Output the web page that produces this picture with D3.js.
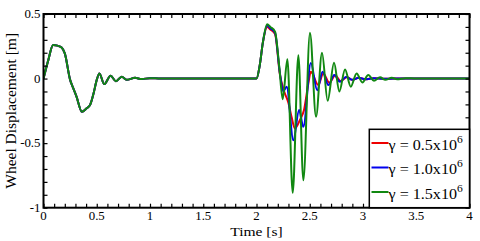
<!DOCTYPE html>
<html><head><meta charset="utf-8">
<script src="https://cdn.jsdelivr.net/npm/d3@7"></script>
<style>
html,body{margin:0;padding:0;background:#fff;}
svg{display:block;font-family:"Liberation Serif","Times New Roman",serif;}
</style></head>
<body><svg id="c" width="480" height="241"></svg>
<script>
// ---- data ----
const xMajorTicks = [0, 0.5, 1, 1.5, 2, 2.5, 3, 3.5, 4];
const xTickLabels = ["0", "0.5", "1", "1.5", "2", "2.5", "3", "3.5", "4"];
const yMajorTicks = [-1, -0.5, 0, 0.5];
const yTickLabels = ["-1", "-0.5", "0", "0.5"];
const seriesNames = ["0.5", "1.0", "1.5"];
const seriesColors = ["#ee0000", "#0000ee", "#118811"];

const sharedTime  = [0, 0.045, 0.09, 0.13, 0.17, 0.2, 0.25, 0.28, 0.31, 0.36, 0.405, 0.437, 0.47, 0.5, 0.525, 0.57, 0.63, 0.68, 0.735, 0.78, 0.86, 0.92, 1.0, 1.1, 2.0, 2.03, 2.06];
const sharedValue = [0, 0.143, 0.26, 0.255, 0.24, 0.195, -0.01, -0.076, -0.14, -0.257, -0.23, -0.205, -0.115, -0.01, 0.04, -0.043, 0.022, -0.02, 0.014, -0.01, 0.006, -0.004, 0.003, 0, 0, 0.1, 0.28];

const redTime  = [2.1, 2.13, 2.174, 2.22, 2.26, 2.30, 2.33, 2.36, 2.408, 2.446, 2.487, 2.51, 2.58, 2.627, 2.684, 2.74, 2.79, 2.85, 2.9, 2.96, 3.02, 3.1, 3.2, 3.3, 4];
const redValue = [0.40, 0.38, 0.345, 0.03, -0.1, -0.19, -0.3, -0.386, -0.32, -0.244, -0.037, 0.053, -0.05, 0.04, -0.033, 0.025, -0.02, 0.012, -0.01, 0.006, -0.005, 0.003, -0.002, 0, 0];

const blueTime  = [2.1, 2.13, 2.174, 2.22, 2.252, 2.283, 2.346, 2.40, 2.44, 2.51, 2.57, 2.62, 2.675, 2.73, 2.784, 2.84, 2.9, 2.96, 3.02, 3.1, 3.2, 3.3, 4];
const blueValue = [0.41, 0.39, 0.355, 0.04, -0.1, -0.064, -0.477, -0.244, -0.374, 0.12, -0.09, 0.053, -0.05, 0.027, -0.025, 0.012, -0.01, 0.006, -0.005, 0.003, -0.002, 0, 0];

const greenTime  = [2.1, 2.13, 2.174, 2.214, 2.246, 2.29, 2.34, 2.393, 2.44, 2.502, 2.559, 2.615, 2.668, 2.728, 2.778, 2.831, 2.885, 2.94, 2.994, 3.05, 3.103, 3.16, 3.21, 3.27, 3.32, 3.4, 3.5, 4];
const greenValue = [0.42, 0.4, 0.363, 0.09, -0.16, 0.15, -0.885, 0.18, -0.787, 0.355, -0.296, 0.2, -0.172, 0.122, -0.1, 0.071, -0.063, 0.04, -0.03, 0.027, -0.017, 0.01, -0.01, 0.006, -0.005, 0.003, 0, 0];

// ---- layout ----
const L = 43.5, R = 469.5, T = 14, B = 207.7;
const svg = d3.select("#c");
const x = d3.scaleLinear().domain([0, 4]).range([L, R]);
const y = d3.scaleLinear().domain([-1, 0.5]).range([B, T]);

const minorX = d3.range(0, 41).map(i => i / 10);
const minorY = d3.range(-10, 6).map(i => i / 10);

svg.append("defs").append("clipPath").attr("id", "clip")
  .append("rect").attr("x", L).attr("y", T).attr("width", R - L).attr("height", B - T);

function build(times, vals) {
  const t = sharedTime.concat(times), v = sharedValue.concat(vals);
  return t.map((d, i) => [d, v[i]]);
}
const series = [build(redTime, redValue), build(blueTime, blueValue), build(greenTime, greenValue)];

const line = d3.line().x(d => x(d[0])).y(d => y(d[1])).curve(d3.curveMonotoneX);
const gLines = svg.append("g").attr("clip-path", "url(#clip)");
series.forEach((s, i) => {
  gLines.append("path").datum(s).attr("d", line)
    .attr("fill", "none").attr("stroke", seriesColors[i]).attr("stroke-width", 2)
    .attr("stroke-linejoin", "round");
});

// ticks (inward) on all four sides via d3 axes
function styleAxis(g) {
  g.select(".domain").remove();
  g.selectAll("line").attr("stroke", "#000").attr("stroke-width", 1.2);
}
svg.append("g").attr("transform", `translate(0,${B})`)
  .call(d3.axisBottom(x).tickValues(minorX).tickSize(-4).tickFormat("")).call(styleAxis);
svg.append("g").attr("transform", `translate(0,${T})`)
  .call(d3.axisTop(x).tickValues(minorX).tickSize(-4).tickFormat("")).call(styleAxis);
svg.append("g").attr("transform", `translate(${L},0)`)
  .call(d3.axisLeft(y).tickValues(minorY).tickSize(-4).tickFormat("")).call(styleAxis);
svg.append("g").attr("transform", `translate(${R},0)`)
  .call(d3.axisRight(y).tickValues(minorY).tickSize(-4).tickFormat("")).call(styleAxis);

// frame
svg.append("rect").attr("x", L).attr("y", T).attr("width", R - L).attr("height", B - T)
  .attr("fill", "none").attr("stroke", "#000").attr("stroke-width", 2);

// stretched text helper
function stext(px, py, str, size, anchor, sx) {
  const g = svg.append("g").attr("transform", `translate(${px},${py})`);
  return g.append("text").attr("transform", `scale(${sx},1)`)
    .attr("text-anchor", anchor).attr("font-size", size).attr("fill", "#000").text(str);
}

xMajorTicks.forEach((t, i) => stext(x(t), 220, xTickLabels[i], 11.5, "middle", 1.12));
yMajorTicks.forEach((v, i) => stext(40.5, y(v) + 4, yTickLabels[i], 11.5, "end", 1.12));

stext((L + R) / 2, 236, "Time [s]", 13.5, "middle", 1.15);
svg.append("text").attr("transform", `translate(16,${(T + B) / 2}) rotate(-90)`)
  .attr("text-anchor", "middle").attr("font-size", 15.5).attr("fill", "#000")
  .text("Wheel Displacement [m]");

// legend
const lg = svg.append("g");
lg.append("rect").attr("x", 369.3).attr("y", 129.3).attr("width", R - 369.3).attr("height", B - 129.3)
  .attr("fill", "#fff").attr("stroke", "#000").attr("stroke-width", 1.5);
seriesNames.forEach((n, i) => {
  const ly = 143 + i * 24.5;
  lg.append("line").attr("x1", 371.5).attr("x2", 388.5).attr("y1", ly).attr("y2", ly)
    .attr("stroke", seriesColors[i]).attr("stroke-width", 2);
  const g = lg.append("g").attr("transform", `translate(388.5,${ly + 6.5})`);
  const t = g.append("text").attr("transform", "scale(1.15,1)").attr("font-size", 14).attr("fill", "#000");
  t.append("tspan").text("γ = " + n + "x10");
  t.append("tspan").attr("dy", -7).attr("font-size", 10).text("6");
});
</script></body></html>
